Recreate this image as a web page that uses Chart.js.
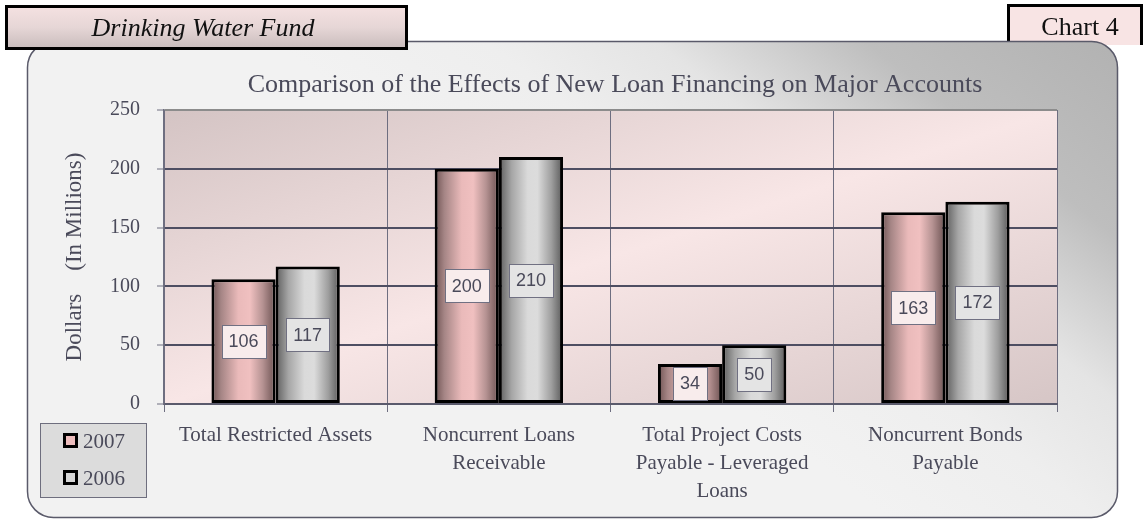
<!DOCTYPE html>
<html>
<head>
<meta charset="utf-8">
<script src="https://cdn.jsdelivr.net/npm/chart.js"></script>
<style>
  html, body { margin: 0; padding: 0; background: #ffffff; }
  #wrap { position: relative; width: 1147px; height: 520px; }
</style>
</head>
<body>
<div id="wrap"><canvas id="chart" width="1147" height="520"></canvas></div>
<script>
// data
const categories = [
  'Total Restricted Assets',
  ['Noncurrent Loans', 'Receivable'],
  ['Total Project Costs', 'Payable - Leveraged', 'Loans'],
  ['Noncurrent Bonds', 'Payable']
];
const seriesNames = ['2007', '2006'];
const values2007 = [106, 200, 34, 163];
const values2006 = [117, 210, 50, 172];
const yTicks = [0, 50, 100, 150, 200, 250];

const bannerText = 'Drinking Water Fund';
const chartNumber = 'Chart 4';
const chartTitle = 'Comparison of the Effects of New Loan Financing on Major Accounts';
const yTitle = 'Dollars    (In Millions)';

const TEXT = '#4a4a5a';
const SERIF = '"Liberation Serif", "Times New Roman", serif';
const SANS = '"Liberation Sans", Arial, sans-serif';
const CAT_PCT = 0.575;

// cylinder-ish shading for each series
const barStops = [
  [[0, '#6e5252'], [0.15, '#a58585'], [0.42, '#eababa'], [0.6, '#f0c0c0'], [0.8, '#b59292'], [1, '#6a5050']],
  [[0, '#5c5c5c'], [0.2, '#a6a6a6'], [0.45, '#dadada'], [0.6, '#dcdcdc'], [0.82, '#9e9e9e'], [1, '#585858']]
];
const labelBoxFill = ['#f8ecec', '#e4e4e4'];

function barFill(ctx) {
  const chart = ctx.chart;
  const xs = chart.scales.x;
  const stops = barStops[ctx.datasetIndex];
  if (!xs || ctx.type !== 'data' || !chart.chartArea) return stops[3][1];
  const cat = xs.width / categories.length;
  const bw = cat * CAT_PCT / 2;
  const left = xs.getPixelForValue(ctx.dataIndex) - bw + ctx.datasetIndex * bw;
  const g = chart.ctx.createLinearGradient(left, 0, left + bw, 0);
  stops.forEach(s => g.addColorStop(s[0], s[1]));
  return g;
}

function roundRect(c, x, y, w, h, r) {
  c.beginPath();
  c.moveTo(x + r, y);
  c.lineTo(x + w - r, y);
  c.arcTo(x + w, y, x + w, y + r, r);
  c.lineTo(x + w, y + h - r);
  c.arcTo(x + w, y + h, x + w - r, y + h, r);
  c.lineTo(x + r, y + h);
  c.arcTo(x, y + h, x, y + h - r, r);
  c.lineTo(x, y + r);
  c.arcTo(x, y, x + r, y, r);
  c.closePath();
}

// frame, banners, title and plot background
const backdrop = {
  id: 'backdrop',
  beforeDraw(chart) {
    const c = chart.ctx;
    const a = chart.chartArea;
    c.save();

    // "Chart 4" tab
    c.fillStyle = '#f8e4e4';
    c.fillRect(1007, 5, 136, 40);
    c.strokeStyle = '#000';
    c.lineWidth = 3;
    c.beginPath();
    c.moveTo(1008.5, 45); c.lineTo(1008.5, 5.5); c.lineTo(1141.5, 5.5); c.lineTo(1141.5, 45);
    c.stroke();
    c.fillStyle = '#111';
    c.font = '26px ' + SERIF;
    c.textAlign = 'center';
    c.textBaseline = 'alphabetic';
    c.fillText(chartNumber, 1080, 35);

    // rounded frame
    const fg = c.createLinearGradient(1118, 41, 800, 450);
    fg.addColorStop(0, '#b2b2b2');
    fg.addColorStop(0.3, '#bebebe');
    fg.addColorStop(0.55, '#e4e4e4');
    fg.addColorStop(0.75, '#eeeeee');
    fg.addColorStop(1, '#f2f2f2');
    roundRect(c, 27.5, 41.5, 1090, 476, 26);
    c.fillStyle = fg;
    c.fill();
    c.strokeStyle = '#5a5a6a';
    c.lineWidth = 1.5;
    c.stroke();

    // banner
    const bg = c.createLinearGradient(0, 5, 0, 50);
    bg.addColorStop(0, '#f6e2e2');
    bg.addColorStop(0.5, '#e6d6d6');
    bg.addColorStop(1, '#c6baba');
    c.fillStyle = bg;
    c.fillRect(5, 5, 403, 45);
    c.strokeStyle = '#000';
    c.lineWidth = 3;
    c.strokeRect(6.5, 6.5, 400, 42);
    c.fillStyle = '#111';
    c.font = 'italic 26px ' + SERIF;
    c.fillText(bannerText, 203, 36);

    // chart title
    c.fillStyle = TEXT;
    c.font = '26px ' + SERIF;
    c.fillText(chartTitle, 615, 92);

    // plot background, light along the anti-diagonal
    const pg = c.createLinearGradient(a.left, a.top, a.left + 174.6, a.top + 530.4);
    pg.addColorStop(0, '#d4c4c4');
    pg.addColorStop(0.5, '#f8e6e6');
    pg.addColorStop(1, '#d6c6c6');
    c.fillStyle = pg;
    c.fillRect(a.left, a.top, a.right - a.left, a.bottom - a.top);
    c.restore();
  }
};

// boxed value labels in the middle of each bar
const valueBoxes = {
  id: 'valueBoxes',
  afterDatasetsDraw(chart) {
    const c = chart.ctx;
    c.save();
    c.font = '18px ' + SANS;
    c.textAlign = 'center';
    c.textBaseline = 'middle';
    chart.data.datasets.forEach((ds, di) => {
      chart.getDatasetMeta(di).data.forEach((el, i) => {
        const txt = String(ds.data[i]);
        const w = Math.round(c.measureText(txt).width) + 14;
        const h = 33;
        const cx = el.x;
        const cy = (el.y + el.base) / 2;
        const x0 = Math.round(cx - w / 2) + 0.5;
        const y0 = Math.round(cy - h / 2) + 0.5;
        c.fillStyle = labelBoxFill[di];
        c.fillRect(x0, y0, w, h);
        c.strokeStyle = '#707082';
        c.lineWidth = 1;
        c.strokeRect(x0, y0, w, h);
        c.fillStyle = TEXT;
        c.fillText(txt, cx, cy + 1);
      });
    });
    c.restore();
  }
};

// legend box in the lower left corner
const legendBox = {
  id: 'legendBox',
  afterDraw(chart) {
    const c = chart.ctx;
    c.save();
    c.fillStyle = '#dcdcdc';
    c.fillRect(40.5, 423.5, 106, 74);
    c.strokeStyle = '#6e6e7e';
    c.lineWidth = 1;
    c.strokeRect(40.5, 423.5, 106, 74);
    const rows = [433, 470];
    chart.data.datasets.forEach((ds, di) => {
      const y = rows[di];
      const g = c.createLinearGradient(63, 0, 78, 0);
      barStops[di].forEach(s => g.addColorStop(s[0], s[1]));
      c.fillStyle = di === 0 ? '#eebebe' : '#d6d6d6';
      c.fillRect(63, y, 15, 15);
      c.strokeStyle = '#000';
      c.lineWidth = 3;
      c.strokeRect(64.5, y + 1.5, 12, 12);
      c.fillStyle = TEXT;
      c.font = '21px ' + SERIF;
      c.textAlign = 'left';
      c.textBaseline = 'alphabetic';
      c.fillText(ds.label, 83, y + 15);
    });
    c.restore();
  }
};

const barStyle = {
  backgroundColor: barFill,
  borderColor: '#000000',
  borderWidth: 3,
  borderSkipped: false,
  barPercentage: 1,
  categoryPercentage: CAT_PCT
};

new Chart(document.getElementById('chart'), {
  type: 'bar',
  data: {
    labels: categories,
    datasets: [
      Object.assign({ label: seriesNames[0], data: values2007 }, barStyle),
      Object.assign({ label: seriesNames[1], data: values2006 }, barStyle)
    ]
  },
  options: {
    responsive: false,
    animation: false,
    events: [],
    layout: { padding: { top: 110, right: 90, bottom: 0, left: 0 } },
    plugins: {
      legend: { display: false },
      title: { display: false },
      tooltip: { enabled: false },
      colors: { enabled: false }
    },
    scales: {
      x: {
        grid: {
          offset: true,
          color: c => c.index === categories.length ? '#8c8c8c' : '#6e6e80',
          lineWidth: c => c.index === categories.length ? 2 : 1,
          tickLength: 8,
          tickColor: '#6e6e80',
          tickWidth: 1
        },
        border: { color: '#5a5a6c', width: 2 },
        ticks: {
          color: TEXT,
          font: { family: SERIF, size: 21, lineHeight: 1.32 },
          padding: 10,
          maxRotation: 0,
          autoSkip: false
        },
        afterFit(s) { s.height = 116; }
      },
      y: {
        min: 0,
        max: 250,
        afterBuildTicks(s) { s.ticks = yTicks.map(v => ({ value: v })); },
        grid: {
          color: c => (c.tick && c.tick.value === 250) ? '#8c8c8c' : '#4e4e62',
          lineWidth: 2,
          tickLength: 7,
          tickColor: '#6e6e80',
          tickWidth: 1
        },
        border: { color: '#6e6e80', width: 1.5 },
        ticks: {
          color: TEXT,
          font: { family: SERIF, size: 20 },
          padding: 17
        },
        title: {
          display: true,
          text: yTitle,
          color: TEXT,
          font: { family: SERIF, size: 23 },
          padding: { top: 61, bottom: 0 }
        },
        afterFit(s) { s.width = 164; }
      }
    }
  },
  plugins: [backdrop, valueBoxes, legendBox]
});
</script>
</body>
</html>
